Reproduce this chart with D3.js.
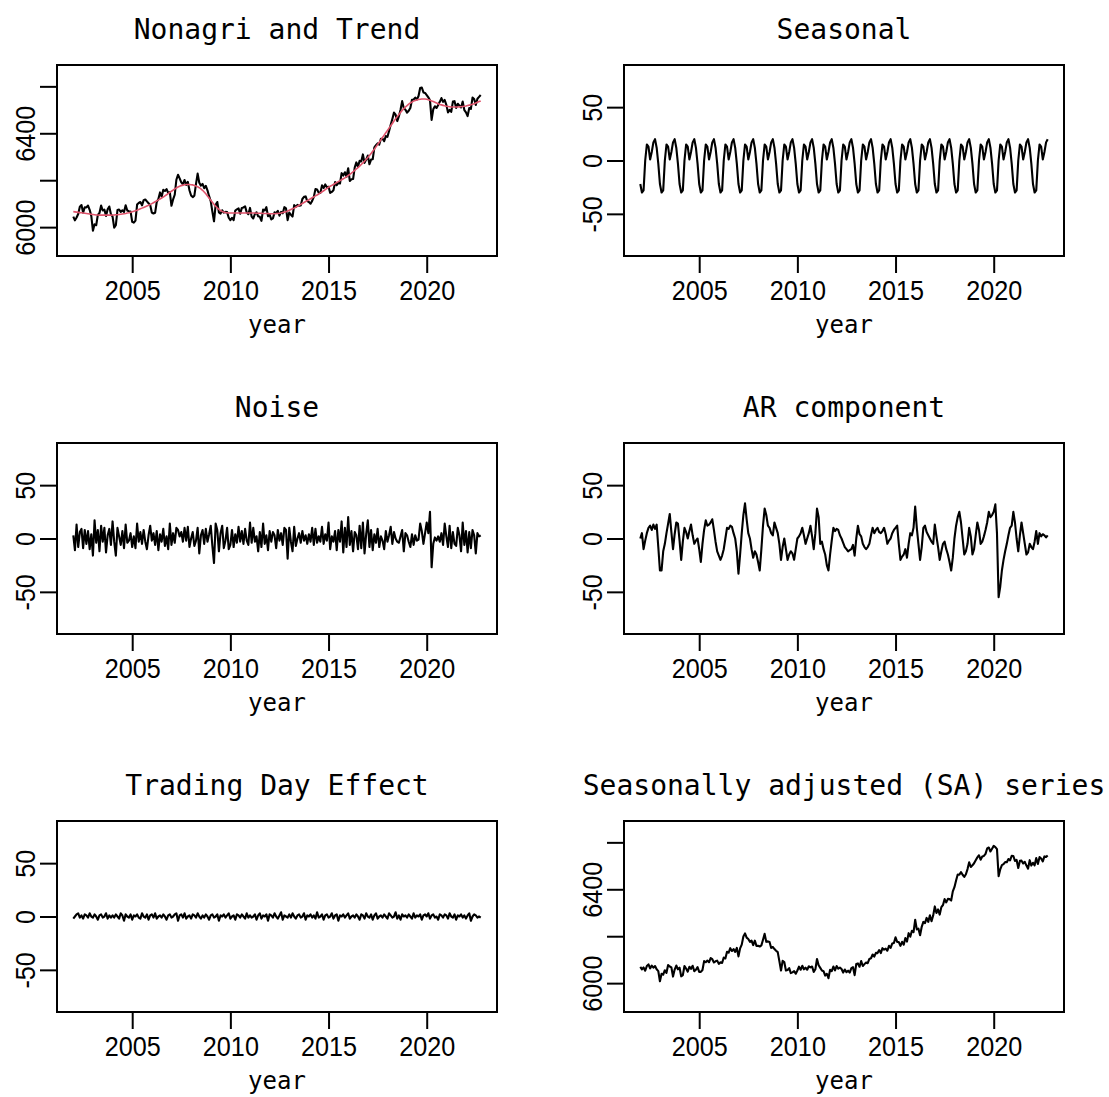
<!DOCTYPE html>
<html lang="en">
<head>
<meta charset="UTF-8">
<title>Nonagri decomposition</title>
<script src="https://d3js.org/d3.v7.min.js"></script>
<style>
  body { margin: 0; background: #fff; }
  svg { display: block; background: #fff; }
  .tick text { font-family: 'Liberation Sans', Arial, sans-serif; font-size: 28px; fill: #000; }
  .title, .xlab { font-family: 'DejaVu Sans Mono', monospace; fill: #000; }
</style>
</head>
<body>
<svg id="chart" width="1109" height="1097"></svg>
<script>
// monthly series, Jan 2002 .. Oct 2022 (one row per year)
const startYear = 2002;
const perYear = 12;

const nonagri = [
  6045,6029,6041,6056,6087,6094,6062,6085,6084,6092,6074,6048,
  5985,6012,6008,6052,6060,6092,6071,6075,6048,6076,6088,6055,
  6045,5998,6008,6073,6075,6065,6072,6065,6093,6071,6068,6067,
  6023,6019,6028,6096,6103,6107,6093,6115,6118,6110,6102,6094,
  6062,6058,6061,6107,6120,6148,6130,6159,6154,6162,6146,6149,
  6091,6118,6138,6202,6223,6208,6191,6183,6201,6180,6193,6157,
  6135,6128,6134,6184,6228,6189,6177,6184,6166,6176,6157,6132,
  6111,6066,6025,6095,6107,6063,6058,6072,6062,6065,6064,6040,
  6030,6040,6030,6071,6076,6080,6057,6082,6084,6089,6063,6055,
  6082,6045,6037,6056,6063,6046,6044,6027,6075,6071,6085,6047,
  6053,6033,6037,6063,6060,6069,6049,6065,6059,6085,6080,6030,
  6062,6053,6045,6094,6086,6095,6091,6092,6120,6129,6131,6111,
  6107,6100,6112,6129,6162,6160,6147,6146,6178,6167,6182,6170,
  6172,6146,6150,6157,6192,6179,6189,6186,6230,6220,6234,6215,
  6251,6197,6204,6205,6254,6276,6257,6283,6280,6310,6274,6288,
  6305,6268,6288,6289,6340,6349,6357,6352,6377,6377,6366,6388,
  6385,6410,6436,6461,6488,6479,6452,6473,6500,6537,6507,6500,
  6488,6496,6508,6543,6544,6552,6544,6559,6593,6595,6574,6572,
  6563,6553,6541,6457,6502,6515,6508,6521,6534,6550,6534,6542,
  6521,6489,6500,6491,6535,6537,6508,6526,6518,6510,6535,6499,
  6489,6473,6508,6504,6552,6546,6521,6547,6555,6563
];

const trend = [
  6066,6065,6064,6063,6062,6061,6060,6059,6058,6057,6056,6055,
  6054,6053,6052,6052,6051,6051,6051,6051,6051,6051,6051,6051,
  6052,6052,6053,6053,6054,6055,6056,6057,6058,6060,6061,6063,
  6066,6068,6070,6072,6075,6078,6081,6084,6087,6090,6093,6096,
  6100,6104,6108,6112,6116,6120,6124,6128,6133,6138,6143,6148,
  6153,6158,6163,6167,6171,6174,6177,6179,6181,6182,6182,6182,
  6181,6180,6178,6175,6172,6168,6163,6157,6150,6142,6133,6124,
  6115,6106,6097,6089,6082,6076,6071,6067,6064,6062,6061,6060,
  6060,6060,6060,6060,6060,6060,6060,6060,6060,6060,6060,6060,
  6060,6060,6060,6060,6059,6059,6059,6059,6058,6058,6058,6058,
  6057,6057,6057,6057,6058,6058,6059,6060,6062,6064,6066,6069,
  6072,6075,6078,6081,6085,6089,6093,6097,6101,6105,6109,6113,
  6117,6121,6125,6129,6133,6137,6141,6146,6150,6155,6160,6165,
  6170,6174,6178,6182,6186,6190,6194,6198,6202,6206,6210,6215,
  6220,6225,6230,6236,6242,6248,6254,6260,6267,6274,6281,6289,
  6297,6305,6314,6323,6332,6342,6352,6362,6372,6382,6392,6402,
  6412,6422,6432,6442,6452,6462,6471,6480,6489,6497,6505,6512,
  6518,6524,6529,6533,6537,6540,6542,6544,6545,6546,6546,6546,
  6545,6543,6541,6538,6535,6532,6529,6526,6523,6521,6519,6517,
  6515,6514,6513,6512,6512,6512,6512,6512,6513,6513,6514,6515,
  6516,6518,6520,6522,6524,6526,6529,6532,6535,6538
];

const seasonal = [
  -22,-30,-28,0,15,13,1,8,17,20,12,-3,
  -22,-30,-28,0,15,13,1,8,17,20,12,-3,
  -22,-30,-28,0,15,13,1,8,17,20,12,-3,
  -22,-30,-28,0,15,13,1,8,17,20,12,-3,
  -22,-30,-28,0,15,13,1,8,17,20,12,-3,
  -22,-30,-28,0,15,13,1,8,17,20,12,-3,
  -22,-30,-28,0,15,13,1,8,17,20,12,-3,
  -22,-30,-28,0,15,13,1,8,17,20,12,-3,
  -22,-30,-28,0,15,13,1,8,17,20,12,-3,
  -22,-30,-28,0,15,13,1,8,17,20,12,-3,
  -22,-30,-28,0,15,13,1,8,17,20,12,-3,
  -22,-30,-28,0,15,13,1,8,17,20,12,-3,
  -22,-30,-28,0,15,13,1,8,17,20,12,-3,
  -22,-30,-28,0,15,13,1,8,17,20,12,-3,
  -22,-30,-28,0,15,13,1,8,17,20,12,-3,
  -22,-30,-28,0,15,13,1,8,17,20,12,-3,
  -22,-30,-28,0,15,13,1,8,17,20,12,-3,
  -22,-30,-28,0,15,13,1,8,17,20,12,-3,
  -22,-30,-28,0,15,13,1,8,17,20,12,-3,
  -22,-30,-28,0,15,13,1,8,17,20,12,-3,
  -22,-30,-28,0,15,13,1,8,17,20
];

const noise = [
  3,-11,13,-8,6,9,-9,8,-5,7,-10,4,
  -16,17,-4,8,-12,12,-3,10,-13,3,9,-6,
  16,-3,-16,10,2,-6,7,-9,13,-4,-2,5,
  -8,2,-9,14,-3,6,-5,8,-3,-10,3,12,
  -2,5,-6,7,-11,4,-3,9,-7,2,-10,14,
  -6,5,-4,10,8,2,6,-3,10,-2,11,-8,
  0,6,-7,-2,10,-14,3,8,-5,9,-3,4,
  12,-7,-23,14,8,-12,5,12,-9,-2,10,-10,
  -6,8,-8,4,-4,11,-3,7,-5,9,-2,-6,
  15,-4,10,-3,2,-12,6,-8,14,-5,3,-11,
  7,-3,6,3,-9,8,-2,5,-6,10,8,-19,
  10,-3,-12,11,-7,0,5,-4,7,-2,3,-5,
  4,-3,10,-6,9,-4,2,-3,11,-5,4,-2,
  15,-10,2,-3,7,-11,8,-3,16,-13,10,-8,
  20,-6,7,-12,6,3,-10,12,-9,15,-14,4,
  17,-8,8,-11,4,-4,9,-8,2,-2,-10,7,
  -3,3,11,-5,6,0,-3,-4,2,8,-12,5,
  3,-3,-8,4,-6,3,-2,-1,14,7,-5,5,
  15,5,25,-27,-5,1,-2,2,-3,5,-6,14,
  2,-8,12,-9,6,-5,-7,10,3,-12,15,-6,
  7,-13,6,-9,8,3,-14,5,2,3
];

const arComponent = [
  0,5,-10,-2,5,10,12,8,13,9,13,-8,
  -30,-30,-12,-5,5,14,23,6,-10,4,15,14,
  -2,-20,-3,10,6,0,7,13,3,-5,-2,0,
  -10,-22,-5,8,17,12,13,15,18,8,-3,-12,
  -16,-20,-16,-10,0,10,9,12,11,5,0,-12,
  -33,-15,5,22,33,18,5,0,-10,-18,-12,-15,
  -22,-30,-10,12,28,22,12,10,5,3,15,10,
  5,-5,-20,-8,0,-10,-20,-15,-12,-14,-20,-10,
  0,2,5,10,3,-5,0,5,12,2,-10,5,
  28,20,-5,-3,-10,-15,-25,-30,-15,-2,10,7,
  9,8,3,0,-4,-8,-10,-12,-11,-10,-6,-16,
  0,12,4,2,-5,-8,-10,-8,-5,3,10,5,
  8,10,6,5,7,10,4,-5,-2,0,5,8,
  10,12,-5,-20,-17,-15,-10,-18,-5,5,3,10,
  30,10,-5,-20,-8,10,12,6,3,0,-3,-5,
  13,2,-8,-20,-12,-5,-3,-10,-15,-22,-30,-18,
  0,12,20,25,15,0,-15,-12,-5,10,2,-15,
  -10,3,15,8,-5,-3,2,8,15,25,20,22,
  25,32,5,-55,-45,-30,-20,-12,-5,3,10,12,
  25,15,0,-12,3,15,5,-5,-15,-13,-5,-8,
  -10,-3,7,-5,5,2,4,3,1,3
];

const tradingDay = [
  -2,0,2,3,-1,1,-2,2,1,-1,3,0,
  -1,2,0,-3,1,2,-1,0,3,-2,1,-1,
  1,-1,2,0,-2,3,1,-4,2,0,-1,2,
  -3,1,0,2,-1,-2,3,0,-1,2,-3,1,
  2,-1,3,-2,0,1,-1,2,0,-3,1,2,
  -1,0,2,3,-4,1,2,-1,3,-2,0,1,
  -2,2,1,-1,3,0,-2,1,-1,2,0,-3,
  1,2,-1,0,2,-4,1,0,2,-1,1,3,
  -2,0,1,-3,2,1,-1,2,0,-2,3,-1,
  1,-1,0,2,-3,1,3,-2,1,0,2,-4,
  2,1,-1,3,0,-2,1,4,-3,1,0,-1,
  2,-1,3,0,-2,1,2,-1,0,3,-3,1,
  0,2,-1,1,-2,4,-1,0,2,-3,1,2,
  -1,0,3,-2,1,2,-4,1,0,2,-1,1,
  3,-2,0,1,-1,2,0,-3,2,1,-2,3,
  0,-1,2,-3,1,3,-2,0,1,-1,2,0,
  -2,3,1,-1,0,4,-2,1,-3,2,0,1,
  -1,2,0,-2,3,-1,1,0,2,-3,1,2,
  0,3,-2,1,2,-1,0,-3,2,1,-1,2,
  1,-2,3,0,-1,2,-3,1,0,2,-1,1,
  -2,1,3,-4,0,2,1,-1,0,-1
];

const saSeries = [
  6069,6059,6067,6053,6073,6080,6063,6075,6066,6073,6059,6051,
  6008,6040,6036,6055,6044,6077,6071,6067,6028,6058,6075,6059,
  6066,6029,6034,6073,6062,6049,6070,6061,6074,6051,6057,6068,
  6048,6048,6056,6094,6089,6096,6089,6107,6102,6088,6093,6096,
  6082,6089,6086,6109,6105,6134,6130,6149,6137,6145,6133,6150,
  6114,6148,6164,6199,6212,6194,6188,6176,6181,6162,6181,6159,
  6159,6156,6161,6185,6210,6176,6178,6175,6150,6154,6145,6138,
  6132,6094,6054,6095,6090,6054,6056,6064,6043,6046,6051,6040,
  6054,6070,6057,6074,6059,6066,6057,6072,6067,6071,6048,6059,
  6103,6076,6065,6054,6051,6032,6040,6021,6057,6051,6071,6054,
  6073,6062,6066,6060,6045,6058,6047,6053,6045,6064,6068,6034,
  6082,6084,6070,6094,6073,6081,6088,6085,6103,6106,6122,6113,
  6129,6128,6141,6128,6149,6143,6147,6138,6159,6150,6169,6171,
  6195,6176,6175,6159,6176,6164,6192,6177,6213,6198,6223,6217,
  6270,6229,6232,6204,6240,6261,6256,6278,6261,6289,6264,6288,
  6327,6299,6314,6292,6324,6333,6358,6344,6359,6358,6352,6391,
  6409,6437,6463,6462,6473,6462,6453,6464,6486,6515,6495,6502,
  6511,6524,6536,6545,6526,6540,6542,6551,6574,6578,6561,6573,
  6585,6580,6571,6456,6485,6503,6507,6516,6515,6529,6523,6543,
  6542,6521,6525,6491,6521,6522,6510,6517,6501,6488,6524,6501,
  6513,6502,6533,6508,6537,6531,6519,6540,6538,6544
];

const yearTicks = [2005, 2010, 2015, 2020];
const levelTicks = [6000, 6200, 6400, 6600];
const levelLabels = ["6000", "", "6400", ""];
const compTicks = [-50, 0, 50];
const compLabels = ["-50", "0", "50"];

const svg = d3.select("#chart");

// plot box geometry (pixels)
const boxW = 440, boxH = 191;
const colX = [57, 624];
const rowY = [65, 443, 821];
const xDomain = [2001.17, 2023.58];
const levelDomain = [5877, 6691];
const compDomain = [-89.5, 89.5];

const panels = [
  { title: "Nonagri and Trend", col: 0, row: 0, series: [nonagri, trend], colors: ["#000", "#DF536B"], widths: [2.1, 1.6], ydom: levelDomain, ticks: levelTicks, labels: levelLabels },
  { title: "Seasonal", col: 1, row: 0, series: [seasonal], colors: ["#000"], widths: [2.1], ydom: compDomain, ticks: compTicks, labels: compLabels },
  { title: "Noise", col: 0, row: 1, series: [noise], colors: ["#000"], widths: [2.1], ydom: compDomain, ticks: compTicks, labels: compLabels },
  { title: "AR component", col: 1, row: 1, series: [arComponent], colors: ["#000"], widths: [2.1], ydom: compDomain, ticks: compTicks, labels: compLabels },
  { title: "Trading Day Effect", col: 0, row: 2, series: [tradingDay], colors: ["#000"], widths: [2.1], ydom: compDomain, ticks: compTicks, labels: compLabels },
  { title: "Seasonally adjusted (SA) series", col: 1, row: 2, series: [saSeries], colors: ["#000"], widths: [2.1], ydom: levelDomain, ticks: levelTicks, labels: levelLabels }
];

panels.forEach(p => {
  const x0 = colX[p.col], y0 = rowY[p.row];
  const x = d3.scaleLinear().domain(xDomain).range([x0, x0 + boxW]);
  const y = d3.scaleLinear().domain(p.ydom).range([y0 + boxH, y0]);
  const g = svg.append("g");

  const line = d3.line()
      .x((d, i) => x(startYear + i / perYear))
      .y(d => y(d));

  p.series.forEach((s, k) => {
    g.append("path")
        .datum(s)
        .attr("d", line)
        .attr("fill", "none")
        .attr("stroke", p.colors[k])
        .attr("stroke-width", p.widths[k])
        .attr("stroke-linejoin", "round");
  });

  // x axis
  g.append("g")
      .attr("transform", `translate(0,${y0 + boxH})`)
      .call(d3.axisBottom(x).tickValues(yearTicks).tickFormat(d3.format("d")).tickSize(17).tickSizeOuter(0))
      .call(a => a.select(".domain").remove())
      .call(a => a.selectAll("line").attr("stroke", "#000").attr("stroke-width", 2))
      .call(a => a.selectAll("text")
          .attr("y", 0)
          .attr("dy", null)
          .attr("transform", "translate(0,44) scale(0.9,1)"));

  // y axis, labels rotated like R's default
  g.append("g")
      .attr("transform", `translate(${x0},0)`)
      .call(d3.axisLeft(y).tickValues(p.ticks).tickFormat((d, i) => p.labels[i]).tickSize(17).tickSizeOuter(0))
      .call(a => a.select(".domain").remove())
      .call(a => a.selectAll("line").attr("stroke", "#000").attr("stroke-width", 2))
      .call(a => a.selectAll("text")
          .attr("transform", "translate(-22,0) rotate(-90) scale(0.9,1)")
          .attr("x", 0)
          .attr("y", 0)
          .attr("dy", null)
          .attr("text-anchor", "middle"));

  // frame
  g.append("rect")
      .attr("x", x0).attr("y", y0)
      .attr("width", boxW).attr("height", boxH)
      .attr("fill", "none")
      .attr("stroke", "#000")
      .attr("stroke-width", 2);

  g.append("text")
      .attr("class", "title")
      .attr("x", x0 + boxW / 2)
      .attr("y", y0 - 26.5)
      .attr("text-anchor", "middle")
      .attr("font-size", "28px")
      .text(p.title);

  g.append("text")
      .attr("class", "xlab")
      .attr("x", x0 + boxW / 2)
      .attr("y", y0 + boxH + 77)
      .attr("text-anchor", "middle")
      .attr("font-size", "24px")
      .text("year");
});
</script>
</body>
</html>
